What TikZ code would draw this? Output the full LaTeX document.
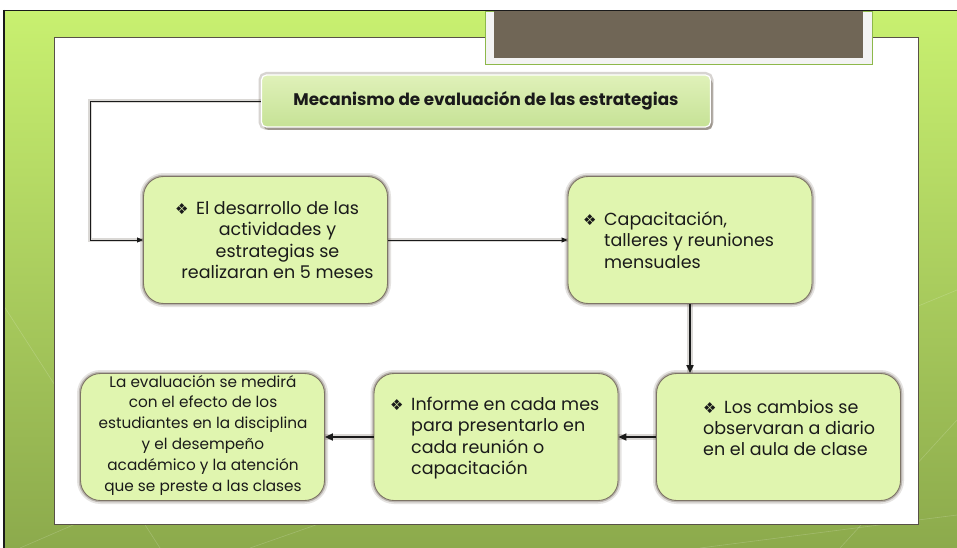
\documentclass[tikz,border=0pt]{standalone}
\usepackage{fontspec}
\setmainfont{Poppins}
\newfontfamily\simbolos{DejaVu Sans}
\usetikzlibrary{arrows.meta,positioning,shadows}
\definecolor{FondoA}{HTML}{C8F070}
\definecolor{FondoB}{HTML}{8CAA4C}
\definecolor{Caja}{HTML}{E0F5AF}
\definecolor{Borde}{HTML}{7D7466}
\definecolor{Sombra}{HTML}{4A3C2E}
\definecolor{TitA}{HTML}{E0F1B9}
\definecolor{TitB}{HTML}{C6E296}
\definecolor{Oscuro}{HTML}{706656}
\definecolor{Marco}{HTML}{F3F3F3}
\definecolor{Verde}{HTML}{8DB84A}
\definecolor{Ink}{HTML}{1A1A1A}
\newcommand{\bul}{\makebox[21pt][l]{{\simbolos\fontsize{15}{15}\selectfont ❖}}}
\newcommand{\sangria}{\hspace*{21pt}}

\begin{document}
\begin{tikzpicture}[x=1pt,y=-1pt,
  caja/.style={draw=Borde,line width=0.9pt,fill=Caja,rounded corners=20pt,
    minimum width=244pt,minimum height=127pt,
    preaction={draw=Sombra,line width=7pt,opacity=0.14},
    preaction={draw=Sombra,line width=3.5pt,opacity=0.28}},
  titulo/.style={draw=white,line width=1.2pt,rounded corners=5pt,
    top color=TitA,bottom color=TitB,minimum width=449pt,minimum height=52pt,
    font=\fontsize{16.8}{20}\selectfont\bfseries,text=Ink,
    drop shadow={shadow xshift=2pt,shadow yshift=-3pt,fill=Sombra,opacity=0.4},
    preaction={draw=Sombra,line width=6pt,opacity=0.22}},
  texto/.style={font=\fontsize{17.5}{21.3}\selectfont,text=Ink,inner sep=0pt},
  fina/.style={draw=Ink,line width=0.9pt,-{Triangle[length=6pt,width=5pt]},
    preaction={draw=Sombra,line width=4pt,opacity=0.2,-}},
  gruesa/.style={draw=Ink,line width=2pt,-{Triangle[length=8pt,width=7pt]},
    preaction={draw=Sombra,line width=6pt,opacity=0.2,-}}]
  \useasboundingbox (0,0) rectangle (957,548);
  \fill[white] (0,0) rectangle (957,548);
  % fondo verde
  \shade[top color=FondoA,bottom color=FondoB] (4,11) rectangle (957,548);
  \foreach \xa/\ya/\xb/\yb in {0/300/160/548, 20/548/200/470, 840/548/957/420,
      860/330/957/290, 250/548/330/520, 700/548/957/515} {
    \draw[white,opacity=0.18,line width=0.6pt] (\xa,\ya) -- (\xb,\yb);
  }
  \draw[Ink,line width=1.5pt] (3,10.5) -- (957,10.5);
  \draw[Ink,line width=2.5pt] (4,10) -- (4,548);
  % panel blanco y recuadro superior
  \filldraw[fill=white,draw=Borde!70!black,line width=0.8pt] (54,37) rectangle (918,524);
  \filldraw[fill=Marco,draw=Verde,line width=0.8pt] (485,11) rectangle (872,64);
  \fill[Oscuro] (494,11) rectangle (863,58);

  \node[titulo] (tit) at (486,101) {Mecanismo de evaluación de las estrategias};
  \foreach \n/\cx/\cy in {b1/265.5/240, b2/690/240, b3/778.5/437, b4/496/437, b5/202.5/437} {
    \node[caja] (\n) at (\cx,\cy) {};
  }
  \node[texto,align=center] (t1) at (267,240)
    {\bul El desarrollo de las\\ \sangria actividades y\\ \sangria estrategias se\\ \sangria realizaran en 5 meses};
  \node[texto,align=left,anchor=west] (t2) at (583,240)
    {\bul Capacitación,\\ \sangria talleres y reuniones\\ \sangria mensuales};
  \node[texto,align=left,anchor=west] (t3) at (703,428)
    {\bul Los cambios se\\ observaran a diario\\ en el aula de clase};
  \node[texto,align=left,anchor=west] (t4) at (390,438)
    {\bul Informe en cada mes\\ \sangria para presentarlo en\\ \sangria cada reunión o\\ \sangria capacitación};
  \node[texto,font=\fontsize{15.3}{20.8}\selectfont,align=center] (t5) at (203,435)
    {La evaluación se medirá\\ con el efecto de los\\ estudiantes en la disciplina\\ y el desempeño\\ académico y la atención\\ que se preste a las clases};

  \coordinate (codo) at (90,101);
  \draw[fina] (tit.west) -- (codo) |- (b1.west);
  \draw[fina] (b1.east) -- (b2.west);
  \draw[gruesa] (b2.south) -- (b2.south |- b3.north);
  \draw[gruesa] (b3.west) -- (b4.east);
  \draw[gruesa] (b4.west) -- (b5.east);
\end{tikzpicture}
\end{document}
